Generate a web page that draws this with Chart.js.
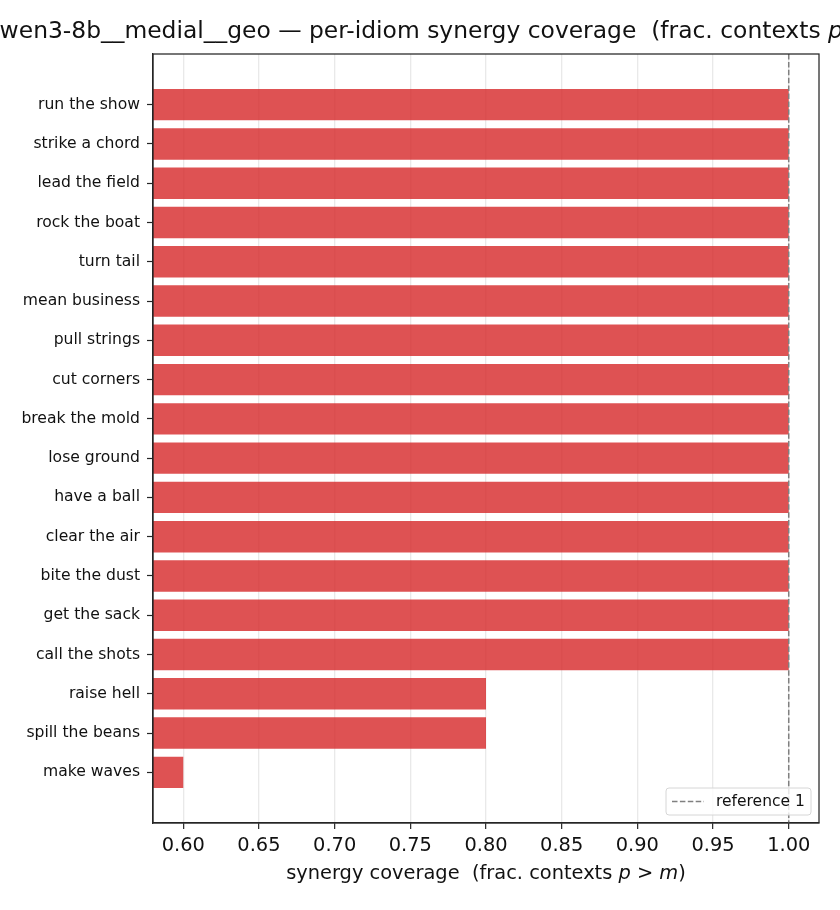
<!DOCTYPE html>
<html>
<head>
<meta charset="utf-8">
<script src="https://cdn.jsdelivr.net/npm/chart.js@4.4.1/dist/chart.umd.min.js"></script>
<style>
  html, body { margin: 0; padding: 0; background: #fff; }
  #wrap { width: 840px; height: 910px; }
</style>
</head>
<body>
<div id="wrap"><canvas id="c" width="840" height="910"></canvas></div>
<script>
const categories = [
  'run the show', 'strike a chord', 'lead the field', 'rock the boat', 'turn tail',
  'mean business', 'pull strings', 'cut corners', 'break the mold', 'lose ground',
  'have a ball', 'clear the air', 'bite the dust', 'get the sack', 'call the shots',
  'raise hell', 'spill the beans', 'make waves'
];
const coverage = [
  1.0, 1.0, 1.0, 1.0, 1.0,
  1.0, 1.0, 1.0, 1.0, 1.0,
  1.0, 1.0, 1.0, 1.0, 1.0,
  0.8, 0.8, 0.6
];
const xTicks = [0.60, 0.65, 0.70, 0.75, 0.80, 0.85, 0.90, 0.95, 1.00];
const xMin = 0.58, xMax = 1.02;
const referenceValue = 1.0;
const referenceLabel = 'reference 1';
const titleSegments = [
  ['qwen3-8b__medial__geo \u2014 per-idiom synergy coverage  (frac. contexts ', false],
  ['p', true], [' > ', false], ['m', true], [')', false]
];
const xLabelSegments = [
  ['synergy coverage  (frac. contexts ', false],
  ['p', true], [' > ', false], ['m', true], [')', false]
];

const FONT = '"DejaVu Sans", "Liberation Sans", sans-serif';
const n = categories.length;
const yPad = 0.05 * ((n - 1) + 0.8);
const yMin = -0.4 - yPad, yMax = (n - 1) + 0.4 + yPad;

function drawSegments(ctx, segs, cx, baseline, size, color) {
  ctx.save();
  ctx.fillStyle = color;
  ctx.textBaseline = 'alphabetic';
  ctx.textAlign = 'left';
  let w = 0;
  const widths = segs.map(([t, it]) => {
    ctx.font = (it ? 'italic ' : '') + size + 'px ' + FONT;
    const m = ctx.measureText(t).width; w += m; return m;
  });
  let x = cx - w / 2;
  segs.forEach(([t, it], i) => {
    ctx.font = (it ? 'italic ' : '') + size + 'px ' + FONT;
    ctx.fillText(t, x, baseline);
    x += widths[i];
  });
  ctx.restore();
}

const decor = {
  id: 'decor',
  afterDraw(chart) {
    const ctx = chart.ctx, a = chart.chartArea;
    ctx.save();
    ctx.strokeStyle = '#262626';
    ctx.lineWidth = 1.25;
    ctx.strokeRect(a.left, a.top, a.right - a.left, a.bottom - a.top);
    ctx.restore();
    const cx = (a.left + a.right) / 2;
    drawSegments(ctx, titleSegments, cx - 39, 37.5, 23.4, '#111');
    drawSegments(ctx, xLabelSegments, cx, 879, 19.4, '#111');
    // legend
    const ds = chart.data.datasets[1];
    const bx = a.right - 153, by = a.bottom - 35, bw = 145, bh = 27;
    ctx.save();
    ctx.beginPath();
    if (ctx.roundRect) ctx.roundRect(bx, by, bw, bh, 3); else ctx.rect(bx, by, bw, bh);
    ctx.fillStyle = 'rgba(255,255,255,0.8)';
    ctx.fill();
    ctx.strokeStyle = '#d6d6d6';
    ctx.lineWidth = 1;
    ctx.stroke();
    ctx.beginPath();
    ctx.setLineDash(ds.borderDash);
    ctx.strokeStyle = ds.borderColor;
    ctx.lineWidth = ds.borderWidth;
    ctx.moveTo(bx + 6, by + 13.5);
    ctx.lineTo(bx + 38, by + 13.5);
    ctx.stroke();
    ctx.setLineDash([]);
    ctx.fillStyle = '#111';
    ctx.font = '15.5px ' + FONT;
    ctx.textBaseline = 'middle';
    ctx.fillText(ds.label, bx + 50, by + 14);
    ctx.restore();
  }
};

new Chart(document.getElementById('c'), {
  type: 'bar',
  data: {
    datasets: [
      {
        type: 'bar',
        label: 'coverage',
        data: coverage.map((v, i) => ({ x: v, y: i })),
        backgroundColor: 'rgba(214,39,40,0.8)',
        borderWidth: 0,
        barPercentage: 0.8,
        categoryPercentage: 1.0,
        indexAxis: 'y',
        order: 2
      },
      {
        type: 'line',
        label: referenceLabel,
        data: [{ x: referenceValue, y: yMin }, { x: referenceValue, y: yMax }],
        borderColor: '#808080',
        borderWidth: 1.5,
        borderDash: [5.5, 2.4],
        pointRadius: 0,
        indexAxis: 'y',
        fill: false,
        order: 1
      }
    ]
  },
  options: {
    indexAxis: 'y',
    responsive: false,
    animation: false,
    layout: { padding: { top: 54, right: 21, left: 0, bottom: 0 } },
    plugins: {
      legend: { display: false },
      title: { display: false },
      tooltip: { enabled: false }
    },
    scales: {
      x: {
        type: 'linear',
        position: 'bottom',
        min: xMin, max: xMax,
        offset: false,
        z: 1,
        afterFit: s => { s.height = 87; },
        afterBuildTicks: s => { s.ticks = xTicks.map(v => ({ value: v })); },
        grid: {
          offset: false,
          color: 'rgba(190,190,190,0.34)',
          lineWidth: 1.3,
          drawTicks: true,
          tickLength: 6,
          tickColor: '#262626',
          tickWidth: 1.2
        },
        border: { display: true, color: '#262626', width: 1.25 },
        ticks: {
          padding: 5,
          color: '#111',
          font: { family: FONT, size: 19.4 },
          maxRotation: 0,
          callback: v => Number(v).toFixed(2)
        }
      },
      y: {
        type: 'linear',
        position: 'left',
        reverse: true,
        offset: false,
        min: yMin, max: yMax,
        afterFit: s => { s.width = 153; },
        afterBuildTicks: s => { s.ticks = categories.map((_, i) => ({ value: i })); },
        grid: {
          offset: false,
          drawOnChartArea: false,
          drawTicks: true,
          tickLength: 6,
          tickColor: '#262626',
          tickWidth: 1.2
        },
        border: { display: true, color: '#262626', width: 1.25 },
        ticks: {
          padding: 7,
          autoSkip: false,
          color: '#111',
          font: { family: FONT, size: 15.6 },
          callback: v => categories[v] ?? ''
        }
      }
    }
  },
  plugins: [decor]
});
</script>
</body>
</html>
